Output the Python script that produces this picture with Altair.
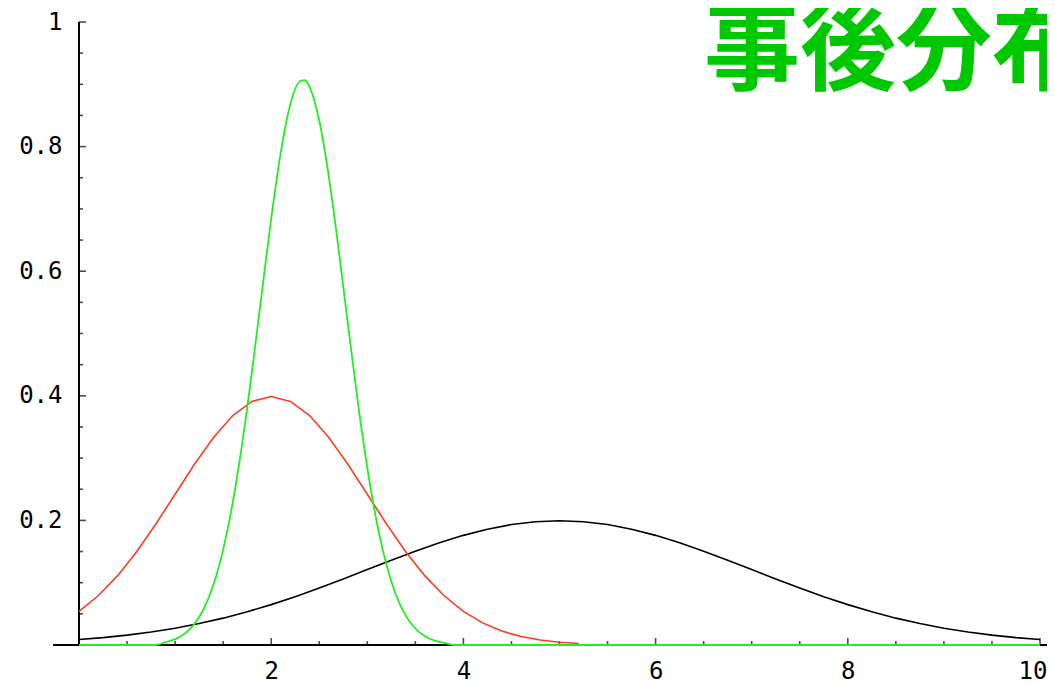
import altair as alt
import pandas as pd

# ---- data ----
black_x = [0, 0.25, 0.5, 0.75, 1, 1.25, 1.5, 1.75, 2, 2.25, 2.5, 2.75, 3, 3.25, 3.5, 3.75, 4, 4.25, 4.5, 4.75,
           5, 5.25, 5.5, 5.75, 6, 6.25, 6.5, 6.75, 7, 7.25, 7.5, 7.75, 8, 8.25, 8.5, 8.75, 9, 9.25, 9.5, 9.75, 10]
black_y = [0.0088, 0.0119, 0.0159, 0.0209, 0.0270, 0.0344, 0.0431, 0.0533, 0.0648, 0.0775, 0.0913, 0.1059,
           0.1210, 0.1360, 0.1506, 0.1641, 0.1760, 0.1859, 0.1933, 0.1979, 0.1995, 0.1979, 0.1933, 0.1859,
           0.1760, 0.1641, 0.1506, 0.1360, 0.1210, 0.1059, 0.0913, 0.0775, 0.0648, 0.0533, 0.0431, 0.0344,
           0.0270, 0.0209, 0.0159, 0.0119, 0.0088]

red_x = [0, 0.2, 0.4, 0.6, 0.8, 1.0, 1.2, 1.4, 1.6, 1.8, 2.0, 2.2, 2.4, 2.6, 2.8, 3.0, 3.2, 3.4, 3.6, 3.8,
         4.0, 4.2, 4.4, 4.6, 4.8, 5.0, 5.2]
red_y = [0.0540, 0.0790, 0.1109, 0.1497, 0.1942, 0.2420, 0.2897, 0.3332, 0.3683, 0.3910, 0.3989, 0.3910,
         0.3683, 0.3332, 0.2897, 0.2420, 0.1942, 0.1497, 0.1109, 0.0790, 0.0540, 0.0355, 0.0224, 0.0136,
         0.0079, 0.0044, 0.0024]

green_x = [0, 0.8, 0.9, 1.0, 1.1, 1.2, 1.3, 1.4, 1.5, 1.6, 1.7, 1.8, 1.9, 2.0, 2.1, 2.2, 2.3, 2.35, 2.4, 2.5,
           2.6, 2.7, 2.8, 2.9, 3.0, 3.1, 3.2, 3.3, 3.4, 3.5, 3.6, 3.7, 3.8, 3.9, 10]
green_y = [0, 0, 0.0046, 0.0094, 0.0182, 0.0335, 0.0586, 0.0971, 0.1531, 0.2290, 0.3254, 0.4391, 0.5626,
           0.6846, 0.7912, 0.8683, 0.9049, 0.9065, 0.8956, 0.8418, 0.7513, 0.6369, 0.5126, 0.3919, 0.2845,
           0.1962, 0.1285, 0.0798, 0.0471, 0.0265, 0.0141, 0.0071, 0.0034, 0, 0]

x_major = [2, 4, 6, 8, 10]
x_minor = [0.5, 1, 1.5, 2.5, 3, 3.5, 4.5, 5, 5.5, 6.5, 7, 7.5, 8.5, 9, 9.5]
y_major = [0.2, 0.4, 0.6, 0.8, 1.0]
y_minor = [0.05, 0.1, 0.15, 0.25, 0.3, 0.35, 0.45, 0.5, 0.55, 0.65, 0.7, 0.75, 0.85, 0.9, 0.95]

title_text = "事後分布"

# ---- chart ----
FONT = "DejaVu Sans Mono"
xs = alt.Scale(domain=[0, 10], nice=False, zero=False)
ys = alt.Scale(domain=[0, 1], nice=False, zero=False)

x_axis = alt.Axis(values=x_major, labelExpr="datum.value + ''", domain=False, ticks=False, grid=False,
                  title=None, labelFont=FONT, labelFontSize=24, labelPadding=14, labelColor="black",
                  labelFlush=True, labelFlushOffset=7, labelOverlap=False)
y_axis = alt.Axis(values=y_major, labelExpr="datum.value + ''", domain=False, ticks=False, grid=False,
                  title=None, labelFont=FONT, labelFontSize=24, labelPadding=17, labelColor="black",
                  labelFlush=False, labelOverlap=False)

X = alt.X("x:Q", scale=xs, axis=x_axis)
Y = alt.Y("y:Q", scale=ys, axis=y_axis)

axis_lines = pd.DataFrame({"x": [-0.27, 0], "x2": [10.2, 0], "y": [0, 0], "y2": [0, 1]})
axes = alt.Chart(axis_lines).mark_rule(color="black", strokeWidth=2).encode(
    x=X, x2="x2:Q", y=Y, y2="y2:Q")

xmaj = alt.Chart(pd.DataFrame({"x": x_major, "y": [0] * len(x_major)})).mark_tick(
    orient="vertical", size=7, thickness=1.6, yOffset=-3.5, color="black").encode(x=X, y=Y)
xmin = alt.Chart(pd.DataFrame({"x": x_minor, "y": [0] * len(x_minor)})).mark_tick(
    orient="vertical", size=4, thickness=1.6, yOffset=-2, color="black").encode(x=X, y=Y)
ymaj = alt.Chart(pd.DataFrame({"x": [0] * len(y_major), "y": y_major})).mark_tick(
    orient="horizontal", size=7, thickness=1.6, xOffset=3.5, color="black").encode(x=X, y=Y)
ymin = alt.Chart(pd.DataFrame({"x": [0] * len(y_minor), "y": y_minor})).mark_tick(
    orient="horizontal", size=4, thickness=1.6, xOffset=2, color="black").encode(x=X, y=Y)

black = alt.Chart(pd.DataFrame({"x": black_x, "y": black_y})).mark_line(
    color="black", strokeWidth=1.6).encode(x=X, y=Y)
red = alt.Chart(pd.DataFrame({"x": red_x, "y": red_y})).mark_line(
    color="#ff3b1f", strokeWidth=1.6).encode(x=X, y=Y)
green = alt.Chart(pd.DataFrame({"x": green_x, "y": green_y})).mark_line(
    color="#22ee22", strokeWidth=1.8, interpolate="monotone").encode(x=X, y=Y)

title = alt.Chart(pd.DataFrame({"t": [title_text]})).mark_text(
    font="Noto Sans CJK JP", fontWeight="bold", fontSize=96, color="#00c800",
    align="left", baseline="middle").encode(
    text="t:N", x=alt.value(625), y=alt.value(31))

chart = alt.layer(axes, xmaj, xmin, ymaj, ymin, black, red, green, title).properties(
    width=961, height=623,
    padding={"left": 71, "top": 14, "right": 7, "bottom": 42},
    autosize=alt.AutoSizeParams(type="none"),
).configure_view(stroke=None)

chart.save("out.html", embed_options={"renderer": "svg", "actions": False})
